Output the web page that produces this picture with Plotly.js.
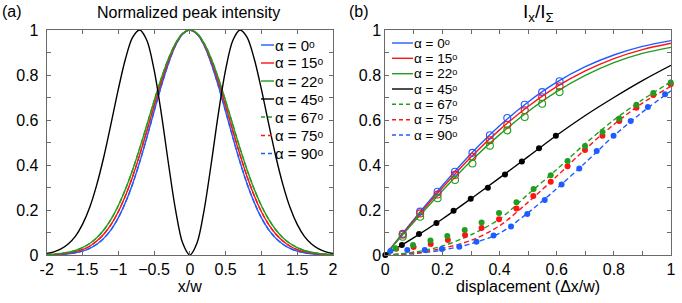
<!DOCTYPE html>
<html>
<head>
<meta charset="utf-8">
<script src="https://cdn.plot.ly/plotly-3.0.1.min.js"></script>
<style>html,body{margin:0;padding:0;background:#fff}#chart{width:682px;height:303px}</style>
</head>
<body>
<div id="chart"></div>
<script>
// ---------- Panel (a): normalized peak intensity ----------
const xPos = [-2,-1.9,-1.8,-1.7,-1.6,-1.5,-1.4,-1.3,-1.2,-1.1,-1,-0.9,-0.8,-0.7,-0.6,-0.5,-0.4,-0.3,-0.2,-0.1,0,0.1,0.2,0.3,0.4,0.5,0.6,0.7,0.8,0.9,1,1.1,1.2,1.3,1.4,1.5,1.6,1.7,1.8,1.9,2];
const peakA0  = [.0008,.0015,.0029,.0055,.010,.017,.029,.048,.075,.113,.165,.233,.316,.414,.523,.638,.750,.850,.931,.982,1,.982,.931,.850,.750,.638,.523,.414,.316,.233,.165,.113,.075,.048,.029,.017,.010,.0055,.0029,.0015,.0008];
const peakA15 = [.0014,.0026,.0048,.0085,.015,.024,.039,.062,.093,.136,.192,.263,.348,.446,.552,.662,.768,.862,.936,.984,1,.984,.936,.862,.768,.662,.552,.446,.348,.263,.192,.136,.093,.062,.039,.024,.015,.0085,.0048,.0026,.0014];
const peakA22 = [.0023,.0041,.0073,.012,.020,.033,.051,.077,.112,.159,.219,.292,.378,.475,.579,.684,.784,.872,.941,.985,1,.985,.941,.872,.784,.684,.579,.475,.378,.292,.219,.159,.112,.077,.051,.033,.020,.012,.0073,.0041,.0023];
const peakA45 = [.007,.014,.027,.049,.083,.136,.211,.313,.439,.585,.736,.871,.967,1.0,.953,.824,.632,.409,.201,.053,0,.053,.201,.409,.632,.824,.953,1.0,.967,.871,.736,.585,.439,.313,.211,.136,.083,.049,.027,.014,.007];

// ---------- Panel (b): I_x / I_Sigma ----------
const dLine = [0,0.1,0.2,0.3,0.4,0.5,0.6,0.7,0.8,0.9,1];
const ratioA0  = [0,.158,.309,.450,.574,.680,.768,.837,.889,.927,.953];
const ratioA15 = [0,.153,.299,.436,.556,.660,.748,.818,.873,.913,.941];
const ratioA22 = [0,.146,.286,.418,.535,.638,.726,.798,.855,.896,.923];
const ratioA45 = [0,.077,.160,.250,.343,.437,.532,.620,.700,.775,.843];
const ratioA67 = [0,.012,.040,.090,.160,.270,.380,.495,.600,.690,.770];
const ratioA75 = [0,.008,.030,.065,.130,.235,.350,.470,.580,.675,.750];
const ratioA90 = [0,.006,.022,.050,.097,.188,.295,.410,.530,.635,.730];

const measX = [0.061,0.122,0.183,0.244,0.305,0.366,0.427,0.488,0.549,0.61];
const measA0  = [.094,.193,.281,.370,.454,.532,.609,.668,.724,.772];
const measA15 = [.090,.185,.269,.356,.437,.510,.579,.643,.701,.750];
const measA22 = [.081,.170,.252,.333,.407,.486,.554,.613,.672,.724];
const measX45 = [0,.058,.118,.179,.239,.299,.359,.419,.478,.538,.597];
const measA45 = [0,.044,.093,.142,.197,.250,.299,.358,.416,.474,.530];
const measX67 = [.036,.097,.158,.217,.278,.337,.398,.459,.519,.579,.638,.699,.760,.819,.879,.938,.999];
const measA67 = [.030,.044,.065,.084,.111,.145,.187,.234,.293,.354,.418,.484,.547,.607,.668,.720,.767];
const measX75 = [.038,.099,.159,.219,.279,.337,.398,.459,.518,.579,.638,.699,.760,.819,.879,.938,.999];
const measA75 = [.028,.036,.049,.067,.089,.120,.159,.207,.262,.326,.394,.467,.530,.596,.655,.711,.759];
const measX90 = [.018,.077,.138,.198,.259,.319,.379,.440,.497,.558,.617,.679,.740,.799,.859,.919,.979];
const measA90 = [.018,.022,.022,.027,.037,.059,.087,.127,.182,.244,.313,.384,.462,.530,.596,.658,.714];

const legendNames = ['0','15','22','45','67','75','90'];
const tickLabelsXa = ['-2','\u22121.5','\u22121','\u22120.5','0','0.5','1','1.5','2'];
const tickValsXa = [-2,-1.5,-1,-0.5,0,0.5,1,1.5,2];
const tickVals02 = [0,0.2,0.4,0.6,0.8,1];
const tickText02 = ['0','0.2','0.4','0.6','0.8','1'];

const BLUE='#1f5cff', RED='#ff1414', GREEN='#1f9e1f', BLACK='#000000';
const colors=[BLUE,RED,GREEN,BLACK,GREEN,RED,BLUE];
const dashes=['solid','solid','solid','solid','5px,3px','5px,3px','5px,3px'];
const FONT='Liberation Sans, Arial, Helvetica, sans-serif';
const LW=1.4;

function ln(x,y,c,dash,xa,ya){return {x:x,y:y,mode:'lines',type:'scatter',xaxis:xa,yaxis:ya,showlegend:false,hoverinfo:'skip',line:{color:c,width:LW,dash:dash||'solid',shape:'spline',smoothing:0.9}};}
function mk(x,y,c,open){return {x:x,y:y,mode:'markers',type:'scatter',xaxis:'x2',yaxis:'y2',showlegend:false,cliponaxis:false,hoverinfo:'skip',
  marker:open?{symbol:'circle-open',size:7,color:c,line:{width:1.1,color:c}}:{symbol:'circle',size:6,color:c}};}

const data=[
  ln(xPos,peakA0,BLUE,'5px,3px','x','y'),
  ln(xPos,peakA15,RED,'5px,3px','x','y'),
  ln(xPos,peakA22,GREEN,'5px,3px','x','y'),
  ln(xPos,peakA0,BLUE,'solid','x','y'),
  ln(xPos,peakA15,RED,'solid','x','y'),
  ln(xPos,peakA22,GREEN,'solid','x','y'),
  ln(xPos,peakA45,BLACK,'solid','x','y'),
  ln(dLine,ratioA90,BLUE,'5px,3px','x2','y2'),
  ln(dLine,ratioA75,RED,'5px,3px','x2','y2'),
  ln(dLine,ratioA67,GREEN,'5px,3px','x2','y2'),
  ln(dLine,ratioA45,BLACK,'solid','x2','y2'),
  ln(dLine,ratioA0,BLUE,'solid','x2','y2'),
  ln(dLine,ratioA15,RED,'solid','x2','y2'),
  ln(dLine,ratioA22,GREEN,'solid','x2','y2'),
  mk(measX90,measA90,BLUE,false),
  mk(measX75,measA75,RED,false),
  mk(measX67,measA67,GREEN,false),
  mk(measX45,measA45,BLACK,false),
  mk(measX,measA0,BLUE,true),
  mk(measX,measA15,RED,true),
  mk(measX,measA22,GREEN,true)
];

const W=682, PT=30, PB=255;
const px=v=>v/W, py=v=>(PB-v)/(PB-PT);

const axBase={showgrid:false,zeroline:false,showline:true,linecolor:'#6a6a6a',linewidth:1,mirror:'ticks',
  ticks:'inside',ticklen:4,tickcolor:'#6a6a6a',tickfont:{family:FONT,size:16,color:'#000'},fixedrange:true};
const minor01={dtick:0.1,ticks:'inside',ticklen:4,tickcolor:'#6a6a6a',showgrid:false};

const shapes=[], annotations=[];
function legend(x0,x1,tx,ys,fs){
  legendNames.forEach((n,i)=>{
    shapes.push({type:'line',xref:'paper',yref:'paper',x0:px(x0),x1:px(x1),y0:py(ys[i]),y1:py(ys[i]),
      line:{color:colors[i],width:LW,dash:dashes[i]==='solid'?'solid':'4px,3px'}});
    annotations.push({xref:'paper',yref:'paper',x:px(tx),y:py(ys[i]),xanchor:'left',yanchor:'middle',showarrow:false,borderpad:0,
      text:'\u03b1 = '+n+'\u1d52',font:{family:FONT,size:fs,color:'#000'}});
  });
}
legend(261,274,274,[45,63,81,99,117,135.5,153.5],15);
legend(392,413,413,[43,58.3,73.7,89,104.3,119.7,135],13.5);

annotations.push({xref:'paper',yref:'paper',x:px(0),y:py(12),xanchor:'left',yanchor:'middle',showarrow:false,text:'(a)',font:{family:FONT,size:16,color:'#000'}});
annotations.push({xref:'paper',yref:'paper',x:px(347),y:py(12),xanchor:'left',yanchor:'middle',showarrow:false,text:'(b)',font:{family:FONT,size:16,color:'#000'}});
annotations.push({xref:'paper',yref:'paper',x:px(189),y:py(13),xanchor:'center',yanchor:'middle',showarrow:false,text:'Normalized peak intensity',font:{family:FONT,size:16,color:'#000'}});
annotations.push({xref:'paper',yref:'paper',x:px(538),y:py(13),xanchor:'center',yanchor:'middle',showarrow:false,text:'I<sub>x</sub>/I<sub>\u03a3</sub>',font:{family:FONT,size:19,color:'#000'}});

const layout={
  width:682,height:303,margin:{l:0,r:0,t:30,b:48},paper_bgcolor:'#fff',plot_bgcolor:'#fff',showlegend:false,
  xaxis:Object.assign({},axBase,{domain:[46.7/W,333/W],range:[-2,2],tickmode:'array',tickvals:tickValsXa,ticktext:tickLabelsXa,anchor:'y',
    title:{text:'x/w',font:{family:FONT,size:16,color:'#000'},standoff:3}}),
  yaxis:Object.assign({},axBase,{range:[0,1],tickmode:'array',tickvals:tickVals02,ticktext:tickText02,anchor:'x',ticklabelstandoff:4,minor:minor01}),
  xaxis2:Object.assign({},axBase,{domain:[385.3/W,671/W],range:[0,1],tickmode:'array',tickvals:tickVals02,ticktext:tickText02,anchor:'y2',minor:minor01,
    title:{text:'displacement (\u0394x/w)',font:{family:FONT,size:16,color:'#000'},standoff:3}}),
  yaxis2:Object.assign({},axBase,{range:[0,1],tickmode:'array',tickvals:tickVals02,ticktext:tickText02,anchor:'x2',ticklabelstandoff:0,minor:minor01}),
  shapes:shapes,annotations:annotations
};
Plotly.newPlot('chart',data,layout,{staticPlot:true,displayModeBar:false});
</script>
</body>
</html>
